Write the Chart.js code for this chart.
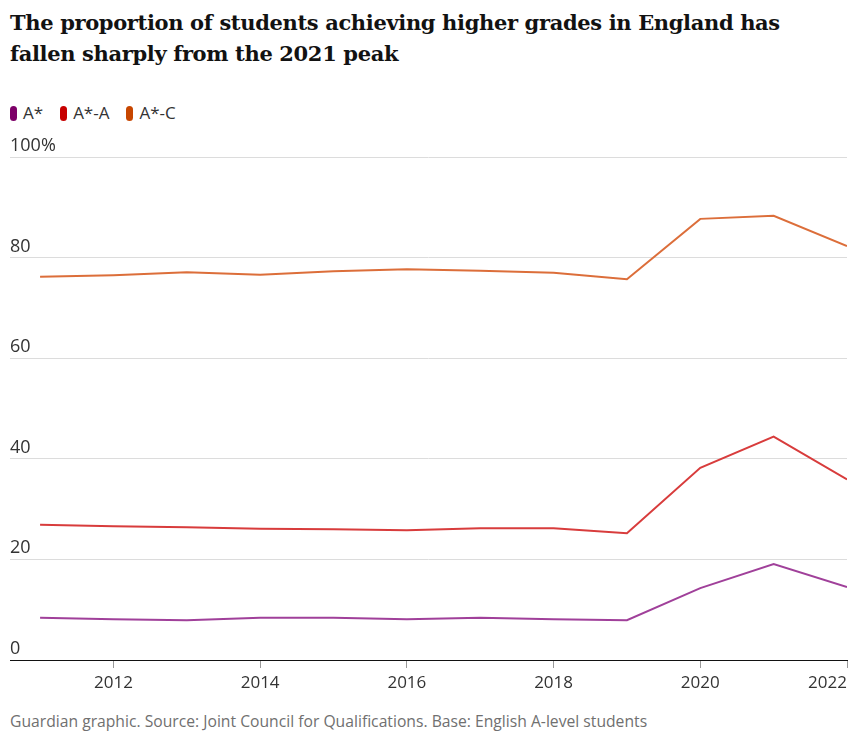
<!DOCTYPE html>
<html>
<head>
<meta charset="utf-8">
<script src="https://cdn.jsdelivr.net/npm/chart.js@4"></script>
<style>
  body { margin: 0; background: #fff; width: 855px; height: 737px; position: relative; overflow: hidden; }
  h1 { position: absolute; left: 10px; top: 7px; margin: 0; width: 830px;
       font-family: "DejaVu Serif", serif; font-weight: bold; font-size: 21px; line-height: 31px;
       color: #121212; letter-spacing: -0.35px; }
  #legend { position: absolute; left: 10px; top: 101px; font-family: "Open Sans", sans-serif; font-size: 17px; color: #333; }
  #legend span.item { margin-right: 17px; }
  #legend i { display: inline-block; width: 7px; height: 15px; border-radius: 4px; vertical-align: -2px; margin-right: 6px; }
  #wrap { position: absolute; left: 0; top: 130px; width: 855px; height: 575px; }
  #footer { position: absolute; left: 10px; top: 710px; font-family: "Open Sans", sans-serif; font-size: 15.7px; color: #707070; }
</style>
</head>
<body>
<h1>The proportion of students achieving higher grades in England has fallen sharply from the 2021 peak</h1>
<div id="legend"></div>
<div id="wrap"><canvas id="gradesChart"></canvas></div>
<div id="footer">Guardian graphic. Source: Joint Council for Qualifications. Base: English A-level students</div>
<script>
const years = [2011, 2012, 2013, 2014, 2015, 2016, 2017, 2018, 2019, 2020, 2021, 2022];
const aStar = [8.4, 8.1, 7.9, 8.4, 8.4, 8.1, 8.4, 8.1, 7.9, 14.3, 19.1, 14.5];
const aStarToA = [26.9, 26.6, 26.4, 26.1, 26.0, 25.8, 26.2, 26.2, 25.2, 38.2, 44.4, 35.9];
const aStarToC = [76.2, 76.5, 77.1, 76.6, 77.3, 77.7, 77.4, 77.0, 75.7, 87.7, 88.3, 82.3];
const xTicks = [2012, 2014, 2016, 2018, 2020, 2022];
const yTicks = [0, 20, 40, 60, 80, 100];

const series = [
  { label: 'A*', values: aStar, line: '#a0409a', key: '#7d0068' },
  { label: 'A*-A', values: aStarToA, line: '#d83c3c', key: '#c70000' },
  { label: 'A*-C', values: aStarToC, line: '#dc6e3a', key: '#c74600' },
];

document.getElementById('legend').innerHTML = series.map(s =>
  '<span class="item"><i style="background:' + s.key + '"></i>' + s.label + '</span>').join('');

// axis labels drawn by hand: y labels above the gridlines, last x label right-aligned
const axisLabelPlugin = {
  id: 'axisLabels',
  afterDraw(chart) {
    const ctx = chart.ctx;
    const x = chart.scales.x;
    const y = chart.scales.y;
    ctx.save();
    ctx.fillStyle = '#333';
    ctx.font = '18px "Open Sans", sans-serif';
    ctx.textAlign = 'left';
    ctx.textBaseline = 'alphabetic';
    yTicks.forEach(v => {
      const label = v === 100 ? '100%' : String(v);
      ctx.fillText(label, 10, y.getPixelForValue(v) - 6);
    });
    ctx.font = '17px "Open Sans", sans-serif';
    ctx.textBaseline = 'middle';
    xTicks.forEach((v, i) => {
      ctx.textAlign = i === xTicks.length - 1 ? 'right' : 'center';
      ctx.fillText(String(v), x.getPixelForValue(v), chart.chartArea.bottom + 23);
    });
    ctx.restore();
  }
};

const ctx = document.getElementById('gradesChart').getContext('2d');
new Chart(ctx, {
  type: 'line',
  data: {
    datasets: series.map(s => ({
      label: s.label,
      data: years.map((yr, i) => ({ x: yr, y: s.values[i] })),
      borderColor: s.line,
      borderWidth: 2,
      pointRadius: 0,
      fill: false,
      tension: 0,
    })),
  },
  options: {
    responsive: true,
    maintainAspectRatio: false,
    animation: false,
    layout: { padding: { left: 10, right: 8, top: 27, bottom: 37 } },
    plugins: { legend: { display: false }, tooltip: { enabled: false } },
    scales: {
      x: {
        type: 'linear',
        min: 2010.59,
        max: 2022,
        afterBuildTicks: axis => { axis.ticks = xTicks.map(v => ({ value: v })); },
        ticks: { display: false },
        grid: { drawOnChartArea: false, drawTicks: true, tickLength: 8, color: '#999' },
        border: { color: '#121212', width: 1 },
      },
      y: {
        min: 0,
        max: 100,
        afterBuildTicks: axis => { axis.ticks = yTicks.map(v => ({ value: v })); },
        ticks: { display: false },
        grid: { color: '#dcdcdc', drawTicks: false },
        border: { display: false },
      },
    },
  },
  plugins: [axisLabelPlugin],
});
</script>
</body>
</html>
